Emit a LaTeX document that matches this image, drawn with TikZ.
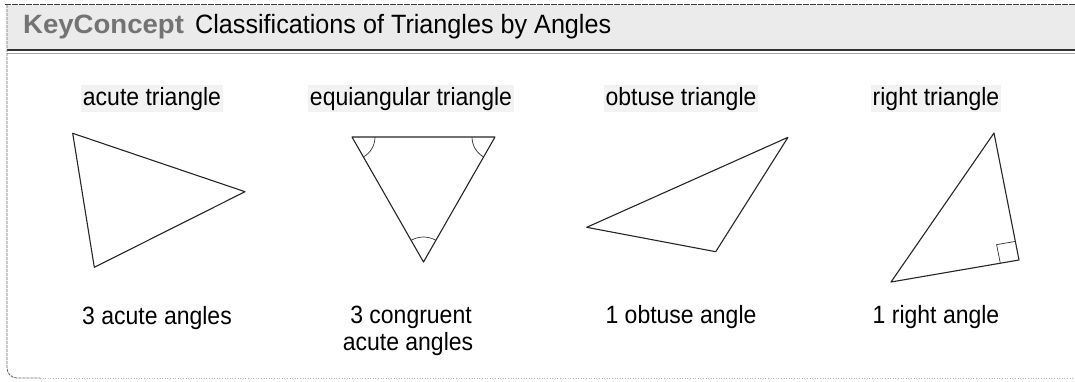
\documentclass[tikz,border=0pt]{standalone}
\usepackage{fontspec}
\setmainfont{Liberation Sans}
\newfontfamily\labfont[FakeStretch=0.92]{Liberation Sans}
\newfontfamily\titlefont[FakeStretch=0.95]{Liberation Sans}
\newfontfamily\keyfont[FakeStretch=1.04]{Liberation Sans}
\begin{document}
\begin{tikzpicture}[x=1pt,y=-1pt,
  tri/.style={line width=1.1pt, line join=round, black!85},
  anglemark/.style={line width=0.7pt, black!80},
  lbl/.style={inner sep=1.5pt, anchor=base, fill=black!5, font=\labfont\fontsize{25}{27}\selectfont},
  desc/.style={inner sep=0pt, anchor=base, font=\labfont\fontsize{25}{27}\selectfont},
  frame/.style={line width=0.8pt, black!60}
]
\useasboundingbox (0,0) rectangle (1075,381);
\fill[white] (0,0) rectangle (1075,381);
% header band and frame
\fill[black!8] (7,5) rectangle (1075,49);
\draw[line width=1pt, black!75, dash pattern=on 6pt off 1pt] (5,4) -- (1075,4);
\draw[line width=1.1pt, black!80] (7,50) -- (1075,50);
\draw[line width=0.5pt, black!35] (7,53) -- (1075,53);
\draw[frame, dash pattern=on 3pt off 1pt, rounded corners=10pt] (7,5) -- (7,378) -- (40,378);
\draw[black!30, line width=0.6pt, dotted] (40,378) -- (1075,378);
% title
\node[anchor=base west, inner sep=0pt, font=\keyfont\bfseries\fontsize{26.5}{28}\selectfont, text=black!55] (key) at (23,33) {KeyConcept};
\node[anchor=base west, inner sep=0pt, font=\titlefont\fontsize{26.5}{29}\selectfont] (title) at (195,33) {Classifications of Triangles by Angles};
% labels
\node[lbl] (l1) at (152,105) {acute triangle};
\node[lbl] (l2) at (411,105) {equiangular triangle};
\node[lbl] (l3) at (681,105) {obtuse triangle};
\node[lbl] (l4) at (936,105) {right triangle};
% acute
\coordinate (a1) at (72.7,133.3);
\coordinate (a2) at (245,191.7);
\coordinate (a3) at (94.3,267.3);
\draw[tri] (a1) -- (a2) -- (a3) -- cycle;
% equiangular
\coordinate (e1) at (352,137);
\coordinate (e2) at (495,137);
\coordinate (e3) at (423.5,262);
\draw[tri] (e1) -- (e2) -- (e3) -- cycle;
\draw[anglemark] ([shift={(23,0)}]e1) arc[start angle=0, end angle=60, radius=23];
\draw[anglemark] ([shift={(-23,0)}]e2) arc[start angle=180, end angle=120, radius=23];
\draw[anglemark] ([shift={(-12.5,-21.65)}]e3) arc[start angle=240, end angle=300, radius=25];
% obtuse
\coordinate (o1) at (586.7,227.3);
\coordinate (o2) at (788,137.3);
\coordinate (o3) at (715.7,251.7);
\draw[tri] (o1) -- (o2) -- (o3) -- cycle;
% right
\coordinate (r1) at (994,133);
\coordinate (r2) at (1019,260);
\coordinate (r3) at (891,282);
\draw[tri] (r1) -- (r2) -- (r3) -- cycle;
\coordinate (q1) at (1015.3,241.4);
\coordinate (q2) at (996.6,244.6);
\coordinate (q3) at (1000.3,263.2);
\draw[anglemark] (q1) -- (q2) -- (q3);
% descriptions
\node[desc] (d1) at (157,324) {3 acute angles};
\node[desc] (d2a) at (411,323) {3 congruent};
\node[desc] (d2b) at (408,350) {acute angles};
\node[desc] (d3) at (681,323) {1 obtuse angle};
\node[desc] (d4) at (936,323) {1 right angle};
\end{tikzpicture}
\end{document}
